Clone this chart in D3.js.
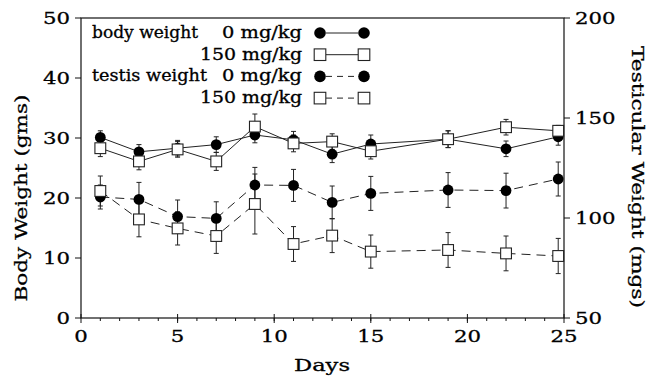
<!DOCTYPE html>
<html lang="en">
<head>
  <meta charset="UTF-8">
  <title>Body and testis weight</title>
  <style>
    body, html {
      margin: 0;
      padding: 0;
      background: #fff;
    }
    text {
      font-family: "DejaVu Serif", serif;
      fill: #000;
      stroke: #000;
      stroke-width: 0.3;
    }
  </style>
</head>
<body>
  <svg id="svg" width="647" height="380"></svg>
  <script src="https://d3js.org/d3.v7.min.js"></script>
  <script>
    // values
    const days = [1, 3, 5, 7, 9, 11, 13, 15, 19, 22, 24.7]

    // body weight, gms (left axis)
    const bodyCtrl = [30.1, 27.7, 28.3, 28.9, 30.5, 29.7, 27.3, 29.0, 29.8, 28.2, 30.2]
    const bodyCtrlErr = [1.1, 1.2, 1.3, 1.3, 1.3, 1.4, 1.4, 1.5, 1.4, 1.3, 1.4]
    const bodyTrt = [28.3, 26.1, 28.1, 26.1, 31.9, 29.1, 29.4, 27.8, 29.8, 31.8, 31.2]
    const bodyTrtErr = [1.4, 1.4, 1.3, 1.5, 2.1, 1.4, 1.3, 1.3, 1.4, 1.3, 0.9]

    // testicular weight, mgs (right axis)
    const testisCtrl = [110.5, 109.3, 100.7, 99.8, 116.5, 116.3, 107.8, 112.3, 114.0, 113.7, 119.5]
    const testisCtrlErr = [6.0, 8.5, 8.3, 8.3, 8.8, 8.0, 8.2, 8.5, 8.7, 8.7, 8.5]
    const testisTrt = [113.5, 99.3, 94.8, 91.0, 107.0, 87.0, 91.2, 83.2, 84.0, 82.3, 81.0]
    const testisTrtErr = [7.5, 8.7, 8.3, 8.7, 15.0, 8.7, 8.5, 8.3, 8.7, 8.7, 8.8]

    const xTicks = [0, 5, 10, 15, 20, 25]
    const leftTicks = [0, 10, 20, 30, 40, 50]
    const rightTicks = [50, 100, 150, 200]

    const legendRows = [
      { group: 'body weight', dose: '0 mg/kg', marker: 'circle', dash: null },
      { group: '', dose: '150 mg/kg', marker: 'square', dash: null },
      { group: 'testis weight', dose: '0 mg/kg', marker: 'circle', dash: '6,5' },
      { group: '', dose: '150 mg/kg', marker: 'square', dash: '6,5' }
    ]

    const m = { left: 81, right: 564, top: 18, bottom: 318 }
    const sx = 1.25 // the original type is wider than DejaVu

    const svg = d3.select('#svg')

    const x = d3.scaleLinear().domain([0, 25]).range([m.left, m.right])
    const yL = d3.scaleLinear().domain([0, 50]).range([m.bottom, m.top])
    const yR = d3.scaleLinear().domain([50, 200]).range([m.bottom, m.top])

    function label(str, tx, ty, size, anchor, rot, width) {
      const t = svg.append('text')
        .attr('transform', `translate(${tx},${ty}) rotate(${rot || 0}) scale(${sx},1)`)
        .attr('text-anchor', anchor)
        .attr('font-size', size)
        .text(str)
      // stretch to the width measured on the original
      if (width) {
        t.attr('textLength', width / sx).attr('lengthAdjust', 'spacingAndGlyphs')
      }
      return t
    }

    // frame
    svg.append('rect')
      .attr('x', m.left).attr('y', m.top)
      .attr('width', m.right - m.left).attr('height', m.bottom - m.top)
      .attr('fill', 'none').attr('stroke', '#111').attr('stroke-width', 1.2)

    // x ticks
    svg.selectAll('.minor')
      .data(d3.range(1, 25))
      .join('line')
      .attr('x1', d => x(d)).attr('x2', d => x(d))
      .attr('y1', m.bottom).attr('y2', m.bottom + 3)
      .attr('stroke', '#111')
    svg.selectAll('.xmajor')
      .data(xTicks)
      .join('line')
      .attr('x1', d => x(d)).attr('x2', d => x(d))
      .attr('y1', m.bottom - 4).attr('y2', m.bottom + 5)
      .attr('stroke', '#111')
    xTicks.forEach(d => label(d, x(d), 342, 17, 'middle'))

    // left ticks
    svg.selectAll('.ltick')
      .data(leftTicks)
      .join('line')
      .attr('x1', m.left - 6).attr('x2', m.left)
      .attr('y1', d => yL(d)).attr('y2', d => yL(d))
      .attr('stroke', '#111')
    leftTicks.forEach(d => label(d, 70, yL(d) + 6, 17, 'end'))

    // right ticks
    svg.selectAll('.rtick')
      .data(rightTicks)
      .join('line')
      .attr('x1', m.right).attr('x2', m.right + 6)
      .attr('y1', d => yR(d)).attr('y2', d => yR(d))
      .attr('stroke', '#111')
    rightTicks.forEach(d => label(d, 575, yR(d) + 6, 17, 'start'))

    // axis titles
    label('Days', 322, 371, 17, 'middle', 0, 56)
    label('Body Weight (gms)', 27, 198, 17, 'middle', -90, 207)
    label('Testicular Weight (mgs)', 632, 177, 17, 'middle', 90, 262)

    const series = [
      { y: yL, v: bodyCtrl, e: bodyCtrlErr, marker: 'circle', dash: null },
      { y: yL, v: bodyTrt, e: bodyTrtErr, marker: 'square', dash: null },
      { y: yR, v: testisCtrl, e: testisCtrlErr, marker: 'circle', dash: '9,6' },
      { y: yR, v: testisTrt, e: testisTrtErr, marker: 'square', dash: '9,6' }
    ]

    const line = d3.line()

    // connecting lines
    series.forEach(s => {
      svg.append('path')
        .attr('d', line(days.map((d, i) => [x(d), s.y(s.v[i])])))
        .attr('fill', 'none')
        .attr('stroke', '#222')
        .attr('stroke-width', 1)
        .attr('stroke-dasharray', s.dash)
    })

    // error bars
    series.forEach(s => {
      const g = svg.append('g').attr('stroke', '#222').attr('stroke-width', 1)
      days.forEach((d, i) => {
        const cx = x(d)
        const y1 = s.y(s.v[i] + s.e[i]), y2 = s.y(s.v[i] - s.e[i])
        g.append('line').attr('x1', cx).attr('x2', cx).attr('y1', y1).attr('y2', y2)
        g.append('line').attr('x1', cx - 2.5).attr('x2', cx + 2.5).attr('y1', y1).attr('y2', y1)
        g.append('line').attr('x1', cx - 2.5).attr('x2', cx + 2.5).attr('y1', y2).attr('y2', y2)
      })
    })

    function marker(kind, cx, cy, size) {
      const r = size || 5.4
      if (kind === 'circle') {
        svg.append('circle')
          .attr('cx', cx).attr('cy', cy).attr('r', r)
          .attr('fill', '#000')
      } else {
        svg.append('rect')
          .attr('x', cx - r).attr('y', cy - r)
          .attr('width', 2 * r).attr('height', 2 * r)
          .attr('fill', '#fff').attr('stroke', '#222').attr('stroke-width', 1.1)
      }
    }

    // markers
    series.forEach(s => {
      days.forEach((d, i) => marker(s.marker, x(d), s.y(s.v[i])))
    })

    // legend
    legendRows.forEach((r, i) => {
      const cy = 33 + i * 21.7
      if (r.group) label(r.group, 92, cy + 5, 16, 'start', 0, r.group === 'body weight' ? 106 : 115)
      label(r.dose, 302, cy + 5, 16, 'end', 0, r.dose === '0 mg/kg' ? 80 : 102)
      svg.append('line')
        .attr('x1', 326).attr('x2', 358)
        .attr('y1', cy).attr('y2', cy)
        .attr('stroke', '#222')
        .attr('stroke-dasharray', r.dash)
      marker(r.marker, 320, cy, 5.8)
      marker(r.marker, 364, cy, 5.8)
    })
  </script>
</body>
</html>
